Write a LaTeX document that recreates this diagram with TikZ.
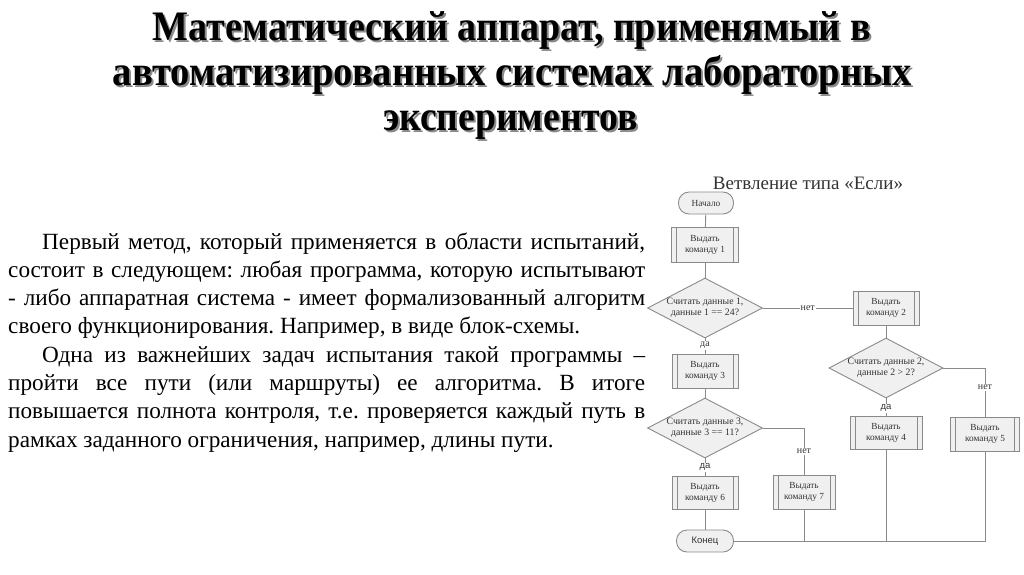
\documentclass[tikz,border=0pt]{standalone}
\usepackage{fontspec}
\usepackage{graphicx}
\setmainfont{Liberation Serif}
\setsansfont{Liberation Sans}
\usetikzlibrary{shapes.geometric}
\definecolor{ln}{HTML}{8A8A8A}
\definecolor{bf}{HTML}{F0F0F0}
\definecolor{tx}{HTML}{333333}
\definecolor{shd}{HTML}{8A8A8A}
\newcommand\fcfont{\fontsize{9.3}{10.8}\selectfont}
\newcommand\dcfont{\fontsize{9.8}{11}\selectfont}
\newcommand\mytitle[2]{\resizebox{#1}{\height}{\fontsize{42}{42}\selectfont\bfseries #2}}
\tikzset{
  line/.style={draw=ln, line width=0.9pt},
  proc/.style={draw=ln, fill=bf, line width=0.9pt, minimum height=34pt, inner sep=0pt,
    align=center, font=\fcfont, text=tx},
  term/.style={draw=ln, fill=bf, line width=0.9pt, rounded corners=10.5pt, minimum height=22pt,
    inner sep=0pt, align=center, text=tx},
  dec/.style={diamond, draw=ln, fill=bf, line width=0.9pt, shape aspect=1.9,
    minimum width=115pt, minimum height=60pt, inner sep=0pt, align=center, font=\dcfont, text=tx},
  lbl/.style={fill=white, inner sep=1pt, text=tx, font=\fontsize{10}{10}\selectfont},
  ttl/.style={anchor=base, inner sep=0pt},
}
\begin{document}
\begin{tikzpicture}[x=1pt,y=-1pt]
\useasboundingbox[fill=white] (0,0) rectangle (1024,574);
% title with shadow
\node[ttl, text=shd] (t1s) at (514,42) {\mytitle{718pt}{Математический аппарат, применямый в}};
\node[ttl, text=shd] (t2s) at (514.5,87) {\mytitle{799pt}{автоматизированных системах лабораторных}};
\node[ttl, text=shd] (t3s) at (512.5,132) {\mytitle{255pt}{экспериментов}};
\node[ttl] (t1) at (512,40) {\mytitle{718pt}{Математический аппарат, применямый в}};
\node[ttl] (t2) at (512.5,85) {\mytitle{799pt}{автоматизированных системах лабораторных}};
\node[ttl] (t3) at (510.5,130) {\mytitle{255pt}{экспериментов}};
% body text
\node[anchor=base west, inner sep=0pt] (body) at (8,249) {\parbox[t]{637pt}{%
\fontsize{23.2}{28.3}\selectfont\setlength{\parindent}{34pt}\frenchspacing
\hyphenpenalty=10000 \exhyphenpenalty=10000 \tolerance=10000 \hbadness=10000 \hfuzz=20pt%
Первый метод, который применяется в области испытаний,\linebreak
состоит в следующем: любая программа, которую испытывают\linebreak
- либо аппаратная система - имеет формализованный алгоритм\linebreak
своего функционирования. Например, в виде блок-схемы.\par
Одна из важнейших задач испытания такой программы –\linebreak
пройти все пути (или маршруты) ее алгоритма. В итоге\linebreak
повышается полнота контроля, т.е. проверяется каждый путь в\linebreak
рамках заданного ограничения, например, длины пути.}};
% flowchart title
\node[font=\fontsize{19}{20}\selectfont, text=tx] (fct) at (808,183) {Ветвление типа «Если»};
% nodes
\node[term, minimum width=55pt, font=\fcfont] (start) at (706,203) {Начало};
\node[proc, minimum width=67pt, minimum height=35pt] (b1) at (705,245) {Выдать\\команду 1};
\node[dec] (d1) at (705,308) {Считать данные 1,\\данные 1 == 24?};
\node[proc, minimum width=66pt] (b2) at (886,308) {Выдать\\команду 2};
\node[proc, minimum width=66pt] (b3) at (705,371) {Выдать\\команду 3};
\node[dec, minimum width=114pt] (d2) at (886,368) {Считать данные 2,\\данные 2 > 2?};
\node[proc, minimum width=72pt, minimum height=33pt] (b4) at (886,433) {Выдать\\команду 4};
\node[proc, minimum width=69pt] (b5) at (985,434) {Выдать\\команду 5};
\node[dec] (d3) at (705,428) {Считать данные 3,\\данные 3 == 11?};
\node[proc, minimum width=66pt, minimum height=33pt] (b6) at (705,493) {Выдать\\команду 6};
\node[proc, minimum width=62pt] (b7) at (804,492) {Выдать\\команду 7};
\node[term, minimum width=57pt, font=\sffamily\fontsize{9.5}{10}\selectfont] (end) at (705,541) {Конец};
% double side lines
\foreach \n in {b1,b2,b3,b4,b5,b6,b7}{
  \draw[line] ([xshift=5.5pt]\n.north west) -- ([xshift=5.5pt]\n.south west);
  \draw[line] ([xshift=-5.5pt]\n.north east) -- ([xshift=-5.5pt]\n.south east);
}
% connectors
\draw[line] (start) -- (b1);
\draw[line] (b1) -- (d1);
\draw[line] (d1.east) -- node[lbl] (l1) {нет} (d1.east -| b2.west);
\draw[line] (d1.south) -- node[lbl, pos=0.45] (l2) {да} (b3.north);
\draw[line] (b2) -- (d2);
\draw[line] (d2.east) -| node[lbl, pos=0.7] (l3) {нет} (b5.north);
\draw[line] (d2.south) -- node[lbl, pos=0.55, font=\sffamily\fontsize{9.5}{10}\selectfont] (l4) {да} (b4.north);
\draw[line] (b3) -- (d3);
\draw[line] (d3.south) -- node[lbl, pos=0.5, font=\sffamily\fontsize{9.5}{10}\selectfont] (l5) {да} (b6.north);
\draw[line] (d3.east) -| node[lbl, pos=0.75] (l6) {нет} (b7.north);
\draw[line] (b6) -- (end);
\coordinate (jn) at (b5.south |- end.east);
\draw[line] (end.east) -- (jn) -- (b5.south);
\draw[line] (b4.south) -- (b4.south |- end.east);
\draw[line] (b7.south) -- (b7.south |- end.east);
\end{tikzpicture}
\end{document}
